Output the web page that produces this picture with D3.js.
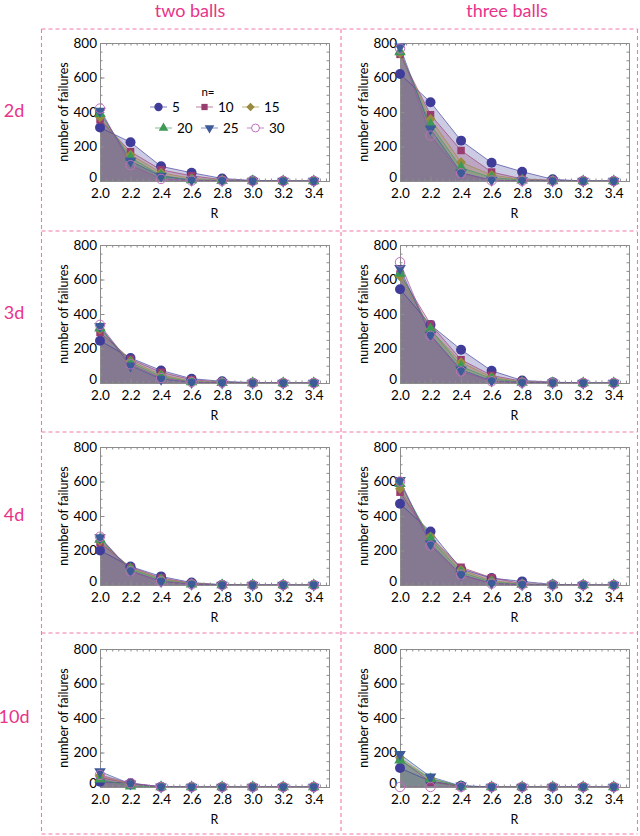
<!DOCTYPE html>
<html>
<head>
<meta charset="utf-8">
<script src="https://d3js.org/d3.v7.min.js"></script>
<style>
body { margin: 0; background: #fff; }
svg text { font-family: Lato, "DejaVu Sans", sans-serif; }
</style>
</head>
<body>
<div id="chart"></div>
<script>

var R = [2.0, 2.2, 2.4, 2.6, 2.8, 3.0, 3.2, 3.4];
var nValues = [5, 10, 15, 20, 25, 30];
var colTitles = ["two balls", "three balls"];
var rowTitles = ["2d", "3d", "4d", "10d"];
var xTicks = [2.0, 2.2, 2.4, 2.6, 2.8, 3.0, 3.2, 3.4];
var yTicks = [0, 200, 400, 600, 800];

// one row per n (5..30), one value per R
var twoBalls2d = [
  [310, 225, 85, 48, 15, 3, 0, 0],
  [355, 170, 65, 30, 8, 1, 0, 0],
  [370, 152, 48, 15, 5, 1, 0, 0],
  [390, 135, 32, 6, 2, 0, 0, 0],
  [405, 115, 28, 5, 2, 0, 0, 0],
  [420, 92, 12, 2, 1, 0, 0, 0]
];
var threeBalls2d = [
  [620, 457, 234, 106, 54, 10, 0, 0],
  [734, 384, 177, 52, 12, 4, 0, 0],
  [740, 359, 109, 35, 8, 2, 0, 0],
  [749, 327, 77, 20, 5, 1, 0, 0],
  [778, 302, 48, 5, 2, 1, 0, 0],
  [768, 263, 45, 3, 1, 0, 0, 0]
];
var twoBalls3d = [
  [245, 145, 73, 25, 10, 2, 0, 0],
  [293, 138, 62, 19, 5, 1, 0, 0],
  [312, 128, 48, 10, 3, 0, 0, 0],
  [318, 118, 38, 6, 2, 0, 0, 0],
  [328, 100, 23, 4, 1, 0, 0, 0],
  [337, 108, 29, 5, 2, 0, 0, 0]
];
var threeBalls3d = [
  [544, 337, 193, 71, 15, 5, 0, 0],
  [632, 341, 135, 44, 10, 3, 0, 0],
  [617, 308, 120, 33, 6, 1, 0, 0],
  [636, 312, 96, 25, 4, 1, 0, 0],
  [665, 278, 77, 13, 3, 1, 0, 0],
  [700, 274, 67, 10, 2, 1, 0, 0]
];
var twoBalls4d = [
  [200, 107, 50, 14, 2, 0, 0, 0],
  [245, 103, 41, 10, 1, 0, 0, 0],
  [255, 97, 35, 8, 1, 0, 0, 0],
  [265, 93, 29, 5, 0, 0, 0, 0],
  [275, 83, 21, 5, 0, 0, 0, 0],
  [280, 79, 21, 4, 0, 0, 0, 0]
];
var threeBalls4d = [
  [471, 310, 93, 40, 21, 3, 0, 0],
  [538, 277, 103, 42, 8, 2, 0, 0],
  [558, 281, 87, 25, 5, 1, 0, 0],
  [587, 267, 74, 18, 3, 1, 0, 0],
  [606, 238, 60, 10, 2, 0, 0, 0],
  [600, 228, 60, 8, 2, 0, 0, 0]
];
var twoBalls10d = [
  [30, 23, 1, 0, 0, 0, 0, 0],
  [55, 20, 1, 0, 0, 0, 0, 0],
  [65, 15, 0, 0, 0, 0, 0, 0],
  [45, 5, 0, 0, 0, 0, 0, 0],
  [90, 18, 1, 0, 0, 0, 0, 0],
  [70, 22, 0, 0, 0, 0, 0, 0]
];
var threeBalls10d = [
  [110, 33, 8, 0, 0, 0, 0, 0],
  [160, 29, 3, 0, 0, 0, 0, 0],
  [170, 49, 5, 0, 0, 0, 0, 0],
  [156, 47, 3, 0, 0, 0, 0, 0],
  [190, 59, 6, 0, 0, 0, 0, 0],
  [0, 0, 0, 0, 0, 0, 0, 0]
];

var panels = [
  [twoBalls2d, threeBalls2d],
  [twoBalls3d, threeBalls3d],
  [twoBalls4d, threeBalls4d],
  [twoBalls10d, threeBalls10d]
];

var colors = ["#3f3d99", "#993d71", "#998b3d", "#3d9956", "#3d5a99", "#a04ca0"];
var shapes = [d3.symbolCircle, d3.symbolSquare, d3.symbolSquare, d3.symbolTriangle, d3.symbolTriangle, d3.symbolCircle];
var rotations = [0, 0, 45, 0, 180, 0];
var sizes = [78, 56, 50, 58, 58, 70];
var pink = "#e8348a";

var W = 640, H = 836;
var svg = d3.select("#chart").append("svg")
  .attr("width", W).attr("height", H);

// dashed grid around the panels
var gx = [41.5, 341, 637.5], gy = [29, 231, 432, 633, 834];
gx.forEach(function(x) {
  svg.append("line").attr("x1", x).attr("x2", x).attr("y1", gy[0]).attr("y2", gy[4])
    .attr("stroke", "#f07aa8").attr("stroke-width", 1.1).attr("stroke-dasharray", "4,3");
});
gy.forEach(function(y) {
  svg.append("line").attr("x1", gx[0]).attr("x2", gx[2]).attr("y1", y).attr("y2", y)
    .attr("stroke", "#f07aa8").attr("stroke-width", 1.1).attr("stroke-dasharray", "4,3");
});

var colLeft = [100, 400], pw = 229, ph = 138;
var rowTop = [43, 245, 447, 649];
var titleX = [190, 507];

colTitles.forEach(function(t, i) {
  svg.append("text").attr("x", titleX[i]).attr("y", 17)
    .attr("text-anchor", "middle").attr("font-size", 18).attr("fill", pink).text(t);
});
rowTitles.forEach(function(t, j) {
  svg.append("text").attr("x", 14).attr("y", rowTop[j] + ph / 2 + 5)
    .attr("text-anchor", "middle").attr("font-size", 18).attr("fill", pink).text(t);
});

var x = d3.scaleLinear().domain([2.0, 3.5]).range([0, pw]);
var y = d3.scaleLinear().domain([0, 800]).range([ph, 0]);
var xMinor = d3.range(2.0, 3.5001, 0.04);
var yMinor = d3.range(0, 800.1, 50);

function styleAxis(g) {
  g.select(".domain").attr("stroke", "#8c8c8c");
  g.selectAll(".tick line").attr("stroke", "#8c8c8c");
  g.selectAll(".tick text").attr("fill", "#000").style("font-family", "Lato, 'DejaVu Sans', sans-serif");
}

function marker(k, scale) {
  return d3.symbol().type(shapes[k]).size(sizes[k] * (scale || 1));
}

panels.forEach(function(row, j) {
  row.forEach(function(data, i) {
    var g = svg.append("g").attr("transform", "translate(" + colLeft[i] + "," + rowTop[j] + ")");

    // fills
    var area = d3.area().x(function(d, k) { return x(R[k]); }).y0(y(0)).y1(function(d) { return y(d); });
    var line = d3.line().x(function(d, k) { return x(R[k]); }).y(function(d) { return y(d); });
    data.forEach(function(s, k) {
      g.append("path").datum(s).attr("d", area)
        .attr("fill", colors[k]).attr("fill-opacity", 0.27).attr("stroke", "none");
    });
    data.forEach(function(s, k) {
      g.append("path").datum(s).attr("d", line)
        .attr("fill", "none").attr("stroke", colors[k]).attr("stroke-opacity", 0.65).attr("stroke-width", 1);
    });

    // axes
    g.append("g").attr("transform", "translate(0," + ph + ")")
      .call(d3.axisBottom(x).tickValues(xMinor).tickSize(-2.5).tickFormat(""))
      .call(styleAxis);
    g.append("g")
      .call(d3.axisTop(x).tickValues(xMinor).tickSize(-2.5).tickFormat(""))
      .call(styleAxis);
    g.append("g")
      .call(d3.axisLeft(y).tickValues(yMinor).tickSize(-2.5).tickFormat(""))
      .call(styleAxis);
    g.append("g").attr("transform", "translate(" + pw + ",0)")
      .call(d3.axisRight(y).tickValues(yMinor).tickSize(-2.5).tickFormat(""))
      .call(styleAxis);

    g.append("g").attr("transform", "translate(0," + ph + ")")
      .call(d3.axisBottom(x).tickValues(xTicks).tickSize(-4.5).tickSizeOuter(0).tickPadding(7).tickFormat(d3.format(".1f")))
      .call(styleAxis)
      .selectAll("text").attr("font-size", 13.5);
    g.append("g")
      .call(d3.axisLeft(y).tickValues(yTicks).tickSize(-4.5).tickSizeOuter(0).tickPadding(3))
      .call(styleAxis)
      .selectAll("text").attr("font-size", 13.5).attr("dy", function(d) { return d === 0 ? "0.02em" : "0.32em"; });

    g.append("text").attr("x", x(2.75)).attr("y", ph + 37)
      .attr("text-anchor", "middle").attr("font-size", 12.5).text("R");
    g.append("text").attr("transform", "translate(-32," + (ph / 2) + ") rotate(-90)")
      .attr("text-anchor", "middle").attr("font-size", 12.5).text("number of failures");

    // markers
    data.forEach(function(s, k) {
      g.selectAll(null).data(s).enter().append("path")
        .attr("d", marker(k))
        .attr("transform", function(d, m) {
          return "translate(" + x(R[m]) + "," + y(d) + ") rotate(" + rotations[k] + ")";
        })
        .attr("fill", k === 5 ? "none" : colors[k])
        .attr("stroke", k === 5 ? "#c070b8" : "none")
        .attr("stroke-width", 1);
    });

    if (i === 0 && j === 0) {
      var lg = g.append("g");
      lg.append("text").attr("x", 108).attr("y", 53).attr("text-anchor", "middle")
        .attr("font-size", 11.5).text("n=");
      nValues.forEach(function(n, k) {
        var lx = 50 + (k % 3) * 46 + (k >= 3 ? 5 : 0), ly = k < 3 ? 64 : 85;
        lg.append("line").attr("x1", lx).attr("x2", lx + 17).attr("y1", ly).attr("y2", ly)
          .attr("stroke", colors[k]).attr("stroke-opacity", 0.65);
        lg.append("path").attr("d", marker(k, 0.7))
          .attr("transform", "translate(" + (lx + 8.5) + "," + ly + ") rotate(" + rotations[k] + ")")
          .attr("fill", k === 5 ? "#fff" : colors[k])
          .attr("stroke", k === 5 ? "#c070b8" : "none");
        lg.append("text").attr("x", lx + 22).attr("y", ly + 4.5).attr("font-size", 13.5).text(n);
      });
    }
  });
});

</script>
</body>
</html>
